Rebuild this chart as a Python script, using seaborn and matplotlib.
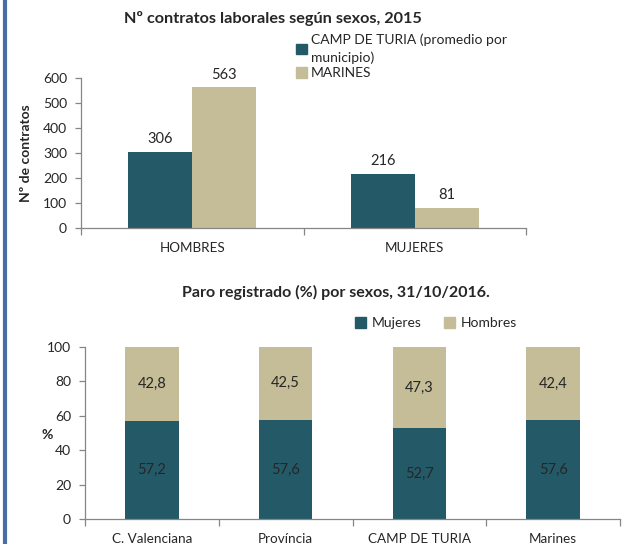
import numpy as np
import pandas as pd
import matplotlib
matplotlib.use("Agg")
import matplotlib.pyplot as plt
import seaborn as sns
from matplotlib.lines import Line2D
from matplotlib.patches import Patch
from matplotlib.ticker import FixedLocator

# ---------------- data ----------------
sexos = ["HOMBRES", "MUJERES"]
serie_camp = "CAMP DE TURIA (promedio por\nmunicipio)"
serie_marines = "MARINES"
contratos_camp = [306, 216]
contratos_marines = [563, 81]

ambitos = ["C. Valenciana", "Província", "CAMP DE TURIA", "Marines"]
paro_mujeres = [57.2, 57.6, 52.7, 57.6]
paro_hombres = [42.8, 42.5, 47.3, 42.4]

# ---------------- style ----------------
sns.set_style("white")
plt.rcParams["font.family"] = ["Lato", "DejaVu Sans"]
plt.rcParams["font.size"] = 10

DARK = "#245968"
BEIGE = "#c4bd97"
AXIS = "#868686"

fig = plt.figure(figsize=(6.33, 5.44), dpi=100)

# ---------------- chart 1: contratos ----------------
ax1 = fig.add_axes([81 / 633, 1 - 228 / 544, 445 / 633, 150 / 544])

df1 = pd.DataFrame({
    "sexo": sexos * 2,
    "serie": [serie_camp] * 2 + [serie_marines] * 2,
    "valor": contratos_camp + contratos_marines,
})
sns.barplot(data=df1, x="sexo", y="valor", hue="serie",
            palette=[DARK, BEIGE], width=0.575, saturation=1,
            linewidth=0, legend=False, ax=ax1)
for cont in ax1.containers:
    ax1.bar_label(cont, fmt="%d", padding=4, fontsize=10.5)

ax1.set_ylim(0, 600)
ax1.set_xlim(-0.5, 1.5)
ax1.set_yticks(range(0, 601, 100))
ax1.set_xlabel("")
ax1.set_ylabel("Nº de contratos", fontweight="bold", fontsize=10)
ax1.yaxis.set_label_coords(-0.11, 0.5)
fig.text(273 / 633, 1 - 18 / 544, "Nº contratos laborales según sexos, 2015",
         fontweight="bold", fontsize=11.7, ha="center", va="center")

leg1 = ax1.legend(handles=[Patch(color=DARK), Patch(color=BEIGE)],
                  labels=[serie_camp, serie_marines],
                  loc="upper left", bbox_to_anchor=(289 / 633, 1 - 27 / 544),
                  bbox_transform=fig.transFigure, frameon=False,
                  handlelength=0.8, handleheight=0.8, handletextpad=0.3,
                  labelspacing=0.25, fontsize=10, borderpad=0)
for t in leg1.get_texts():
    t.set_linespacing(1.45)

# ---------------- chart 2: paro ----------------
ax2 = fig.add_axes([85 / 633, 1 - 519 / 544, 535 / 633, 172 / 544])

totales = [m + h for m, h in zip(paro_mujeres, paro_hombres)]
sns.barplot(x=ambitos, y=totales, color=BEIGE, width=0.4,
            saturation=1, linewidth=0, ax=ax2)
sns.barplot(x=ambitos, y=paro_mujeres, color=DARK, width=0.4,
            saturation=1, linewidth=0, ax=ax2)

hombres_bars = ax2.containers[0]
for p, m, h in zip(hombres_bars, paro_mujeres, paro_hombres):
    cx = p.get_x() + p.get_width() / 2
    ax2.text(cx, m / 2, f"{m:.1f}".replace(".", ","),
             ha="center", va="center", fontsize=10.5)
    ax2.text(cx, m + h / 2, f"{h:.1f}".replace(".", ","),
             ha="center", va="center", fontsize=10.5)

ax2.set_ylim(0, 100)
ax2.set_xlim(-0.5, 3.5)
ax2.set_yticks(range(0, 101, 20))
ax2.set_xlabel("")
ax2.set_ylabel("%", fontweight="bold", fontsize=10, rotation=0,
               va="center", ha="center")
ax2.yaxis.set_label_coords((47 - 85) / 535, (519 - 435) / 172)
fig.text(336 / 633, 1 - 292 / 544, "Paro registrado (%) por sexos, 31/10/2016.",
         fontweight="bold", fontsize=11.5, ha="center", va="center")

ax2.legend(handles=[Patch(color=DARK), Patch(color=BEIGE)],
           labels=["Mujeres", "Hombres"], ncol=2,
           loc="center", bbox_to_anchor=(436 / 633, 1 - 323 / 544),
           bbox_transform=fig.transFigure, frameon=False,
           handlelength=0.8, handleheight=0.8, handletextpad=0.4,
           columnspacing=1.6, fontsize=10, borderpad=0)

# ---------------- common axis styling ----------------
for ax, n in ((ax1, len(sexos)), (ax2, len(ambitos))):
    for s in ("top", "right"):
        ax.spines[s].set_visible(False)
    for s in ("left", "bottom"):
        ax.spines[s].set_color(AXIS)
        ax.spines[s].set_linewidth(0.9)
    ax.tick_params(axis="y", which="major", length=4, width=0.9,
                   color=AXIS, direction="out", left=True, pad=6,
                   labelsize=10)
    ax.tick_params(axis="x", which="major", length=0, pad=10, labelsize=9.7)
    ax.xaxis.set_minor_locator(FixedLocator(np.arange(n + 1) - 0.5))
    ax.tick_params(axis="x", which="minor", length=5, width=0.9,
                   color=AXIS, direction="out", bottom=True)

# blue border on the left
fig.add_artist(Line2D([5 / 633, 5 / 633], [0, 1], color="#4a6ea3",
                      linewidth=3, transform=fig.transFigure))

fig.savefig("out.png", dpi=100)
